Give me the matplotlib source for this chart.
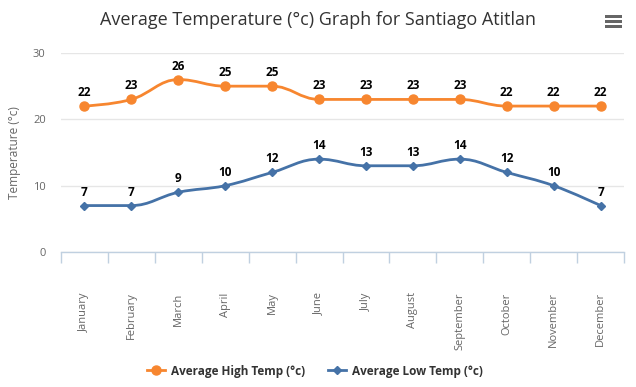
import numpy as np
import matplotlib
matplotlib.use("Agg")
import matplotlib.pyplot as plt
from matplotlib.path import Path
from matplotlib.patches import PathPatch, Rectangle
from matplotlib.lines import Line2D

plt.rcParams['font.family'] = ['Open Sans', 'DejaVu Sans']

months = ["January", "February", "March", "April", "May", "June", "July",
          "August", "September", "October", "November", "December"]
high_temp = [22, 23, 26, 25, 25, 23, 23, 23, 23, 22, 22, 22]
low_temp = [7, 7, 9, 10, 12, 14, 13, 13, 14, 12, 10, 7]
y_ticks = [0, 10, 20, 30]

HIGH_COLOR = "#f7862f"
LOW_COLOR = "#4572a7"


def spline_path(xs, ys, smoothing=1.5):
    # Highcharts-style spline: cubic bezier with control points per point
    n = len(xs)
    denom = smoothing + 1
    left = [None] * n
    right = [None] * n
    for i in range(1, n - 1):
        lx, ly = xs[i - 1], ys[i - 1]
        px, py = xs[i], ys[i]
        nx, ny = xs[i + 1], ys[i + 1]
        lcx = (smoothing * px + lx) / denom
        lcy = (smoothing * py + ly) / denom
        rcx = (smoothing * px + nx) / denom
        rcy = (smoothing * py + ny) / denom
        if rcx != lcx:
            corr = (rcy - lcy) * (rcx - px) / (rcx - lcx) + py - rcy
            lcy += corr
            rcy += corr
        if lcy > max(ly, py):
            lcy = max(ly, py)
            rcy = 2 * py - lcy
        elif lcy < min(ly, py):
            lcy = min(ly, py)
            rcy = 2 * py - lcy
        if rcy > max(ny, py):
            rcy = max(ny, py)
            lcy = 2 * py - rcy
        elif rcy < min(ny, py):
            rcy = min(ny, py)
            lcy = 2 * py - rcy
        left[i] = (lcx, lcy)
        right[i] = (rcx, rcy)
    verts = [(xs[0], ys[0])]
    codes = [Path.MOVETO]
    for i in range(1, n):
        c1 = right[i - 1] or (xs[i - 1], ys[i - 1])
        c2 = left[i] or (xs[i], ys[i])
        verts += [c1, c2, (xs[i], ys[i])]
        codes += [Path.CURVE4] * 3
    return Path(verts, codes)


fig = plt.figure(figsize=(6.36, 3.87), dpi=100)
ax = fig.add_axes([61 / 636, 1 - 252 / 387, 563 / 636, 199 / 387])

x = np.arange(len(months))
for vals, color, marker, ms in [(high_temp, HIGH_COLOR, "o", 6.5),
                                (low_temp, LOW_COLOR, "D", 4.5)]:
    ax.add_patch(PathPatch(spline_path(list(x), list(vals)), facecolor="none",
                           edgecolor=color, lw=2, zorder=3))
    ax.plot(x, vals, linestyle="none", marker=marker, ms=ms, color=color, zorder=4)
    for xi, v in zip(x, vals):
        ax.annotate(str(v), (xi, v), xytext=(0, 5), textcoords="offset points",
                    ha="center", va="bottom", fontsize=8.5, fontweight="bold",
                    color="black", zorder=5)

ax.set_xlim(-0.5, len(months) - 0.5)
ax.set_ylim(0, 30)
ax.set_yticks(y_ticks)
ax.tick_params(axis="y", length=0, pad=11, labelsize=8, labelcolor="#666666")
ax.grid(axis="y", color="#e6e6e6", lw=1)
ax.set_axisbelow(True)

ax.set_xticks(x)
ax.set_xticklabels(months, rotation=90, va="top", ha="center")
ax.tick_params(axis="x", which="major", length=0, pad=29, labelsize=8,
               labelcolor="#666666")
ax.set_xticks(np.arange(-0.5, len(months)), minor=True)
ax.tick_params(axis="x", which="minor", length=8, width=1, color="#c0d0e0",
               direction="out")

for side in ["top", "right", "left"]:
    ax.spines[side].set_visible(False)
ax.spines["bottom"].set_color("#c0d0e0")
ax.spines["bottom"].set_linewidth(1)

ax.set_ylabel("Temperature (°c)", fontsize=8.5, color="#666666")
ax.yaxis.set_label_coords(-40 / 563, 0.5)

fig.text(0.5, 1 - 20 / 387, "Average Temperature (°c) Graph for Santiago Atitlan",
         ha="center", va="center", fontsize=13, color="#333333")

# context menu icon
for yy in [15, 20, 25]:
    fig.add_artist(Rectangle((605 / 636, 1 - (yy + 3) / 387), 17 / 636, 3 / 387,
                             transform=fig.transFigure, color="#666666", lw=0))

handles = [Line2D([], [], color=HIGH_COLOR, marker="o", ms=6.5, lw=2),
           Line2D([], [], color=LOW_COLOR, marker="D", ms=4.5, lw=2)]
leg = fig.legend(handles, ["Average High Temp (°c)", "Average Low Temp (°c)"],
                 loc="center", bbox_to_anchor=(0.495, 1 - 371 / 387), ncol=2,
                 frameon=False, handlelength=1.5, columnspacing=2.0,
                 handletextpad=0.5, prop={"size": 8.5, "weight": "bold"})
for t in leg.get_texts():
    t.set_color("#333333")

fig.savefig("out.png", dpi=100)
